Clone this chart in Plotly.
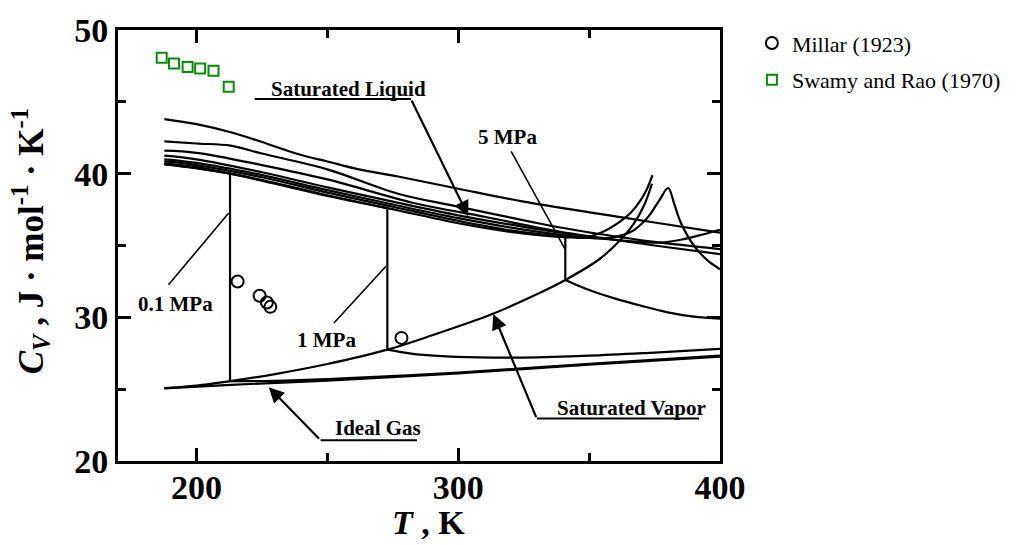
import plotly.graph_objects as go

# ---------------- data: T in K, Cv in J/(mol K) ----------------
# saturated liquid and vapour boundaries
T_sat_liq = [187.7, 200, 212.8, 230, 250, 272.9, 300, 320, 340.9, 348, 354, 361.7, 366, 369.5, 372, 374.2]
cv_sat_liq = [40.65, 40.38, 40.0, 39.3, 38.45, 37.6, 36.55, 35.95, 35.58, 35.55, 35.85, 36.65, 37.3, 38.1, 38.9, 39.9]

T_sat_vap = [187.7, 200, 212.8, 230, 250, 272.9, 290, 313, 330, 340.9, 354, 362, 367, 371, 374]
cv_sat_vap = [25.07, 25.25, 25.56, 26.05, 26.75, 27.75, 28.75, 30.23, 31.6, 32.6, 34.06, 35.4, 36.5, 37.8, 39.3]

# ideal gas
T_ideal = [187.7, 213, 250, 300, 350, 400]
cv_ideal = [25.05, 25.3, 25.6, 26.1, 26.7, 27.27]

# 0.1 MPa isobar
T_01_liq = [187.7, 200, 212.8]
cv_01_liq = [40.66, 40.39, 40.0]
T_01_vap = [212.8, 230, 250, 300, 350, 400]
cv_01_vap = [25.56, 25.58, 25.7, 26.16, 26.76, 27.34]

# 1 MPa isobar
T_1_liq = [187.7, 200, 225, 250, 272.9]
cv_1_liq = [40.72, 40.45, 39.55, 38.5, 37.6]
T_1_vap = [272.9, 282, 292, 308, 325, 350, 375, 400]
cv_1_vap = [27.75, 27.48, 27.32, 27.21, 27.2, 27.33, 27.55, 27.8]

# 5 MPa isobar
T_5_liq = [187.7, 200, 225, 250, 275, 300, 320, 340.9]
cv_5_liq = [40.85, 40.6, 39.75, 38.68, 37.7, 36.72, 36.05, 35.58]
T_5_vap = [340.9, 350, 360, 370, 380, 390, 400]
cv_5_vap = [32.6, 31.9, 31.3, 30.8, 30.35, 30.05, 29.9]

# supercritical isobars
T_10 = [187.7, 200, 225, 250, 275, 300, 325, 345, 355, 360, 366, 370, 373, 377, 380.2, 382.5, 385, 390, 395, 400]
cv_10 = [41.0, 40.75, 39.9, 38.85, 37.85, 36.9, 36.1, 35.6, 35.5, 35.6, 35.95, 36.5, 37.1, 38.2, 39.0, 37.9, 36.6, 35.0, 34.0, 33.35]

T_20 = [187.7, 200, 225, 250, 275, 300, 325, 350, 365, 377, 385, 392, 400]
cv_20 = [41.25, 41.0, 40.1, 39.05, 38.05, 37.1, 36.3, 35.6, 35.3, 35.2, 35.4, 35.7, 36.1]

T_50 = [187.7, 200, 225, 250, 283, 310, 339, 354, 375, 400]
cv_50 = [41.6, 41.45, 40.6, 39.6, 37.96, 37.0, 35.95, 35.55, 35.0, 34.4]

T_100 = [187.7, 200, 213, 225, 250, 277, 300, 339, 354, 375, 400]
cv_100 = [42.25, 42.1, 41.95, 41.4, 40.3, 38.6, 37.7, 36.25, 35.8, 35.25, 34.75]

T_200 = [187.7, 200, 213.8, 225, 239, 250, 262, 277, 300, 325, 354, 375, 400]
cv_200 = [43.8, 43.45, 42.85, 42.2, 41.35, 40.85, 40.3, 39.8, 38.95, 38.05, 37.2, 36.6, 35.9]

# measurements
T_millar = [215.7, 224.1, 226.9, 228.2, 278.3]
cv_millar = [32.49, 31.5, 31.03, 30.73, 28.57]

T_swamy = [186.7, 191.4, 196.6, 201.4, 206.5, 212.3]
cv_swamy = [48.06, 47.66, 47.42, 47.32, 47.16, 46.05]

FONT = "Liberation Serif"
LINE = dict(color="black", width=2.2)

fig = go.Figure()


def curve(x, y, shape="spline"):
    fig.add_trace(go.Scatter(x=x, y=y, mode="lines", line=dict(LINE, shape=shape),
                             showlegend=False, hoverinfo="skip"))


# smooth branches
for x, y in [(T_sat_liq, cv_sat_liq), (T_sat_vap, cv_sat_vap), (T_ideal, cv_ideal),
             (T_01_liq, cv_01_liq), (T_01_vap, cv_01_vap),
             (T_1_liq, cv_1_liq), (T_1_vap, cv_1_vap),
             (T_5_liq, cv_5_liq), (T_5_vap, cv_5_vap),
             (T_10, cv_10), (T_20, cv_20), (T_50, cv_50), (T_100, cv_100), (T_200, cv_200)]:
    curve(x, y)

# jumps across the two-phase region at the saturation temperature
for tl, cl, tv, cvv in [(T_01_liq, cv_01_liq, T_01_vap, cv_01_vap),
                        (T_1_liq, cv_1_liq, T_1_vap, cv_1_vap),
                        (T_5_liq, cv_5_liq, T_5_vap, cv_5_vap)]:
    curve([tl[-1], tv[0]], [cl[-1], cvv[0]], shape="linear")

fig.add_trace(go.Scatter(x=T_millar, y=cv_millar, mode="markers", name="Millar (1923)",
                         marker=dict(symbol="circle-open", size=12, color="black", line=dict(width=2)),
                         legendgroup="a"))
fig.add_trace(go.Scatter(x=T_swamy, y=cv_swamy, mode="markers", name="Swamy and Rao (1970)",
                         marker=dict(symbol="square-open", size=10, color="#0a8a0a", line=dict(width=2)),
                         legendgroup="b"))

ann = []
shapes = []


def label(x, y, text, size=21):
    ann.append(dict(x=x, y=y, xref="x", yref="y", text=f"<b>{text}</b>", showarrow=False,
                    font=dict(family=FONT, size=size, color="black"), xanchor="center", yanchor="middle"))


def seg(x0, y0, x1, y1, w=1.6):
    shapes.append(dict(type="line", xref="x", yref="y", x0=x0, y0=y0, x1=x1, y1=y1,
                       line=dict(color="black", width=w)))


def arrow(x_tail, y_tail, x_head, y_head):
    ann.append(dict(x=x_head, y=y_head, ax=x_tail, ay=y_tail, xref="x", yref="y", axref="x", ayref="y",
                    text="", showarrow=True, arrowhead=2, arrowsize=1.4, arrowwidth=2.2, arrowcolor="black",
                    standoff=0, startstandoff=0))


# Saturated Liquid
label(258.0, 45.91, "Saturated Liquid")
seg(222.2, 45.2, 281.9, 45.2, 2)
arrow(281.9, 45.2, 303.8, 37.04)
# Ideal Gas
label(269.5, 22.28, "Ideal Gas")
seg(247.4, 21.45, 284.2, 21.45, 2)
arrow(247.4, 21.45, 227.6, 25.14)
# Saturated Vapor
label(366.0, 23.71, "Saturated Vapor")
seg(330.0, 22.95, 392.0, 22.95, 2)
arrow(330.0, 22.95, 313.4, 30.23)
# isobar labels with leader lines
label(192.0, 30.94, "0.1 MPa")
seg(189.3, 32.26, 212.3, 37.27)
label(249.6, 28.45, "1 MPa")
seg(252.5, 29.6, 272.3, 33.54)
label(318.8, 42.58, "5 MPa")
seg(320.2, 41.55, 340.8, 34.75)

# axis titles
ann.append(dict(x=0.515, y=-0.1894, xref="paper", yref="paper", showarrow=False,
                text="<b><i>T</i> , K</b>", font=dict(family=FONT, size=34, color="black"),
                xanchor="center", yanchor="bottom"))
ann.append(dict(x=-0.146, y=0.51, xref="paper", yref="paper", showarrow=False, textangle=-90,
                text="<b><i>C</i><sub><i>V</i></sub> , J · mol<sup>-1</sup> · K<sup>-1</sup></b>",
                font=dict(family=FONT, size=35, color="black"), xanchor="center", yanchor="middle"))

axis_common = dict(showline=True, linewidth=3, linecolor="black", mirror="ticks", ticks="inside",
                   ticklen=13, tickwidth=3, tickcolor="black", showgrid=False, zeroline=False,
                   tickfont=dict(family=FONT, size=34, color="black", weight="bold"))

fig.update_layout(
    width=1032, height=545,
    font=dict(family=FONT, color="black"),
    margin=dict(l=118, r=312, t=28, b=84),
    paper_bgcolor="white", plot_bgcolor="white",
    xaxis=dict(range=[170, 400], tick0=0, dtick=100, ticklabelstandoff=-6,
               minor=dict(ticks="inside", dtick=50, tick0=0, ticklen=8, tickwidth=3, tickcolor="black"),
               **axis_common),
    yaxis=dict(range=[20, 50], tick0=0, dtick=10,
               minor=dict(ticks="inside", dtick=5, tick0=0, ticklen=8, tickwidth=3, tickcolor="black"),
               **axis_common),
    legend=dict(x=1.053, y=1.018, xanchor="left", yanchor="top", bgcolor="rgba(0,0,0,0)",
                font=dict(family=FONT, size=22, color="black"), tracegroupgap=5),
    annotations=ann, shapes=shapes,
)

fig.write_html("out.html")
